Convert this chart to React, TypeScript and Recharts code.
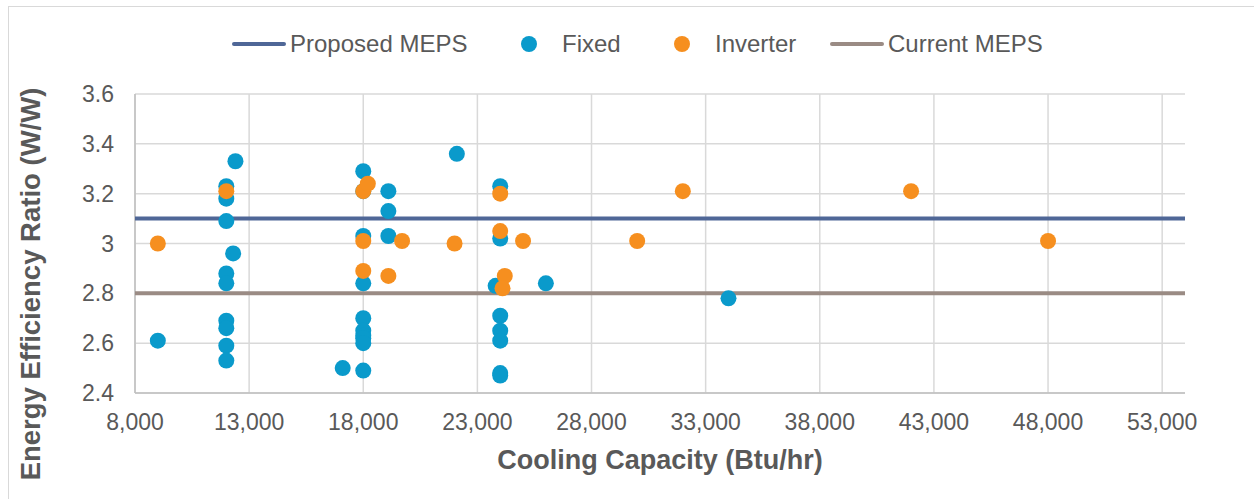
import { ScatterChart, Scatter, XAxis, YAxis, CartesianGrid } from "recharts";

// Fixed-speed units
const fixedCapacity = [
  9000, 12000, 12000, 12000, 12000, 12000, 12000, 12000, 12000, 12000,
  12400, 12300, 17100, 18000, 18000, 18000, 18000, 18000, 18000, 18000, 18000,
  18000, 18000, 19100, 19100, 19100, 22100, 24000, 24000, 23800, 24000, 24000,
  24000, 24000, 24000, 26000, 34000,
];
const fixedEer = [
  2.61, 3.23, 3.18, 3.09, 2.88, 2.84, 2.69, 2.66, 2.59, 2.53,
  3.33, 2.96, 2.5, 3.29, 3.21, 3.03, 2.84, 2.7, 2.65, 2.63, 2.62,
  2.6, 2.49, 3.21, 3.13, 3.03, 3.36, 3.23, 3.02, 2.83, 2.71, 2.65,
  2.61, 2.48, 2.47, 2.84, 2.78,
];

// Inverter units
const inverterCapacity = [
  9000, 12000, 18000, 18200, 18000, 18000, 19100, 19700, 22000, 24000, 24000,
  24200, 24100, 25000, 30000, 32000, 42000, 48000,
];
const inverterEer = [
  3.0, 3.21, 3.21, 3.24, 3.01, 2.89, 2.87, 3.01, 3.0, 3.2, 3.05,
  2.87, 2.82, 3.01, 3.01, 3.21, 3.21, 3.01,
];

// MEPS levels
const mepsCapacity = [8000, 54000];
const proposedMeps = [3.1, 3.1];
const currentMeps = [2.8, 2.8];

const xDomain = [8000, 54000];
const xTicks = [8000, 13000, 18000, 23000, 28000, 33000, 38000, 43000, 48000, 53000];
const yTicks = [2.4, 2.6, 2.8, 3.0, 3.2, 3.4, 3.6];

const FIXED = "#0A9ACB";
const INVERTER = "#F68F1F";
const PROPOSED = "#4F6797";
const CURRENT = "#9A8B84";
const TEXT = "#595959";
const FONT = '"Liberation Sans", Arial, sans-serif';

const zip = (xs: number[], ys: number[]) => xs.map((x, i) => ({ x, y: ys[i] }));

const fixedData = zip(fixedCapacity, fixedEer);
const inverterData = zip(inverterCapacity, inverterEer);
const proposedData = zip(mepsCapacity, proposedMeps);
const currentData = zip(mepsCapacity, currentMeps);

const noShape = () => <g />;

// vertical grid only at the ticks, none at the right edge of the plot
const verticalGrid = ({ offset }: any) =>
  xTicks.map((t) => offset.left + ((t - xDomain[0]) / (xDomain[1] - xDomain[0])) * offset.width);

function LegendItem({ left, kind, color, label }: { left: number; kind: "line" | "dot"; color: string; label: string }) {
  return (
    <div style={{ position: "absolute", left, top: 30, height: 28, display: "flex", alignItems: "center" }}>
      {kind === "line" ? (
        <span style={{ width: 54, height: 4, background: color, borderRadius: 2, marginRight: 4 }} />
      ) : (
        <span style={{ width: 16, height: 16, background: color, borderRadius: 8, marginRight: 25 }} />
      )}
      <span style={{ fontSize: 24, color: TEXT, whiteSpace: "nowrap" }}>{label}</span>
    </div>
  );
}

export default function App() {
  const tick = { fontSize: 23, fill: TEXT, fontFamily: FONT };
  return (
    <div style={{ position: "absolute", left: 0, top: 0, width: 1254, height: 499, overflow: "hidden", background: "#fff", fontFamily: FONT }}>
      <div style={{ position: "absolute", left: 8, top: 6, width: 1280, height: 520, border: "1.5px solid #D9D9D9" }} />
      <LegendItem left={232} kind="line" color={PROPOSED} label="Proposed MEPS" />
      <LegendItem left={521} kind="dot" color={FIXED} label="Fixed" />
      <LegendItem left={674} kind="dot" color={INVERTER} label="Inverter" />
      <LegendItem left={830} kind="line" color={CURRENT} label="Current MEPS" />
      <div style={{ position: "absolute", left: 0, top: 0 }}>
        <ScatterChart width={1254} height={499} margin={{ top: 94, right: 69, bottom: 66, left: 75 }}>
          <CartesianGrid stroke="#D9D9D9" strokeWidth={1.5} verticalCoordinatesGenerator={verticalGrid} />
          <XAxis
            type="number"
            dataKey="x"
            domain={xDomain}
            ticks={xTicks}
            allowDataOverflow
            height={40}
            tickLine={false}
            tickSize={0}
            tickMargin={21}
            axisLine={{ stroke: "#BFBFBF", strokeWidth: 1.5 }}
            tick={tick}
            tickFormatter={(v: number) => v.toLocaleString("en-US")}
          />
          <YAxis
            type="number"
            dataKey="y"
            domain={[2.4, 3.6]}
            ticks={yTicks}
            allowDataOverflow
            width={60}
            tickLine={false}
            tickSize={0}
            tickMargin={21}
            axisLine={{ stroke: "#BFBFBF", strokeWidth: 1.5 }}
            tick={tick}
            tickFormatter={(v: number) => String(Number(v.toFixed(1)))}
          />
          <Scatter data={proposedData} line={{ stroke: PROPOSED, strokeWidth: 4 }} shape={noShape} isAnimationActive={false} />
          <Scatter data={currentData} line={{ stroke: CURRENT, strokeWidth: 4 }} shape={noShape} isAnimationActive={false} />
          <Scatter data={fixedData} fill={FIXED} shape={(p: any) => <circle cx={p.cx} cy={p.cy} r={8} fill={FIXED} />} isAnimationActive={false} />
          <Scatter data={inverterData} fill={INVERTER} shape={(p: any) => <circle cx={p.cx} cy={p.cy} r={8} fill={INVERTER} />} isAnimationActive={false} />
        </ScatterChart>
      </div>
      <div
        style={{
          position: "absolute",
          left: 660,
          top: 460,
          transform: "translate(-50%, -50%)",
          fontSize: 27,
          fontWeight: 700,
          color: TEXT,
          whiteSpace: "nowrap",
        }}
      >
        Cooling Capacity (Btu/hr)
      </div>
      <div
        style={{
          position: "absolute",
          left: 31,
          top: 284,
          transform: "translate(-50%, -50%) rotate(-90deg)",
          fontSize: 27.5,
          fontWeight: 700,
          color: TEXT,
          whiteSpace: "nowrap",
        }}
      >
        Energy Efficiency Ratio (W/W)
      </div>
    </div>
  );
}
